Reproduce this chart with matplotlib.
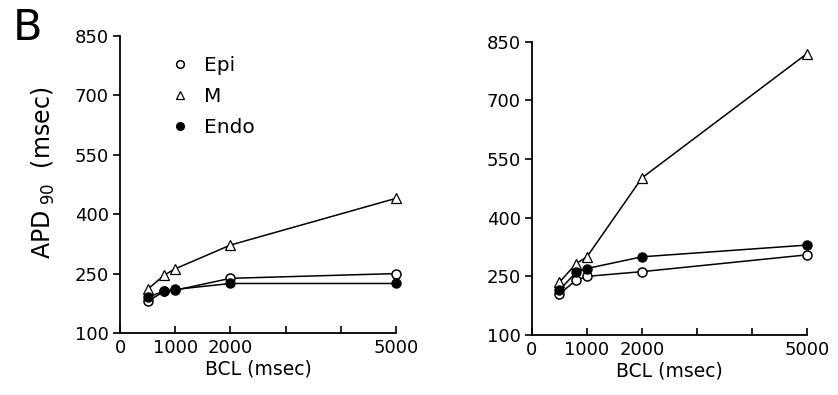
import numpy as np
import matplotlib
matplotlib.use('Agg')
import matplotlib.pyplot as plt

plt.rcParams['font.family'] = ['DejaVu Sans']

# BCL values (msec)
bcl = [500, 800, 1000, 2000, 5000]

# APD90 values (msec), left panel
left_epi = [180, 205, 208, 238, 250]
left_m = [210, 246, 262, 322, 440]
left_endo = [190, 206, 210, 225, 225]

# APD90 values (msec), right panel
right_epi = [205, 240, 250, 262, 305]
right_m = [235, 282, 300, 502, 820]
right_endo = [215, 260, 270, 300, 330]

yticks = [100, 250, 400, 550, 700, 850]
xticks = [0, 1000, 2000, 3000, 4000, 5000]
xticklabels = ['0', '1000', '2000', '', '', '5000']

fig = plt.figure(figsize=(8.38, 3.95), dpi=100)
ax1 = fig.add_axes([0.1432, 0.157, 0.3294, 0.752])
ax2 = fig.add_axes([0.6348, 0.152, 0.3282, 0.742])


def style_axis(ax):
    ax.set_xlim(0, 5000)
    ax.set_ylim(100, 850)
    for side in ['top', 'right']:
        ax.spines[side].set_visible(False)
    for side in ['left', 'bottom']:
        ax.spines[side].set_linewidth(1.3)
    ax.set_yticks(yticks)
    ax.set_xticks(xticks)
    ax.set_xticklabels(xticklabels)
    ax.tick_params(axis='y', direction='out', length=5, width=1.2, labelsize=13, pad=3)
    ax.tick_params(axis='x', direction='in', length=5, width=1.2, labelsize=13, pad=4)
    ax.set_xlabel('BCL (msec)', fontsize=13.5, labelpad=2)


def draw(ax, epi, m, endo):
    kw = dict(color='black', lw=1.1, markersize=6.5, clip_on=False)
    ax.plot(bcl, epi, marker='o', mfc='white', mec='black', mew=1.1, label='Epi', zorder=3, **kw)
    ax.plot(bcl, m, marker='^', mfc='white', mec='black', mew=0.9, label='M', zorder=3, **kw)
    ax.plot(bcl, endo, marker='o', mfc='black', mec='black', label='Endo', zorder=4, **kw)


draw(ax1, left_epi, left_m, left_endo)
draw(ax2, right_epi, right_m, right_endo)
style_axis(ax1)
style_axis(ax2)

ax1.set_ylabel(r'APD$_{\ 90}$  (msec)', fontsize=17)
ax1.yaxis.set_label_coords(-0.228, 0.54)

ax1.legend(loc='upper left', bbox_to_anchor=(0.167, 0.96), frameon=False,
           fontsize=14.5, handlelength=0.6, handletextpad=0.9, labelspacing=0.6,
           numpoints=1, borderaxespad=0, markerscale=0.85)
leg = ax1.get_legend()
for line in leg.get_lines():
    line.set_linestyle('')

fig.text(0.033, 0.928, 'B', fontsize=31, ha='center', va='center')

plt.savefig('out.png', dpi=100)
